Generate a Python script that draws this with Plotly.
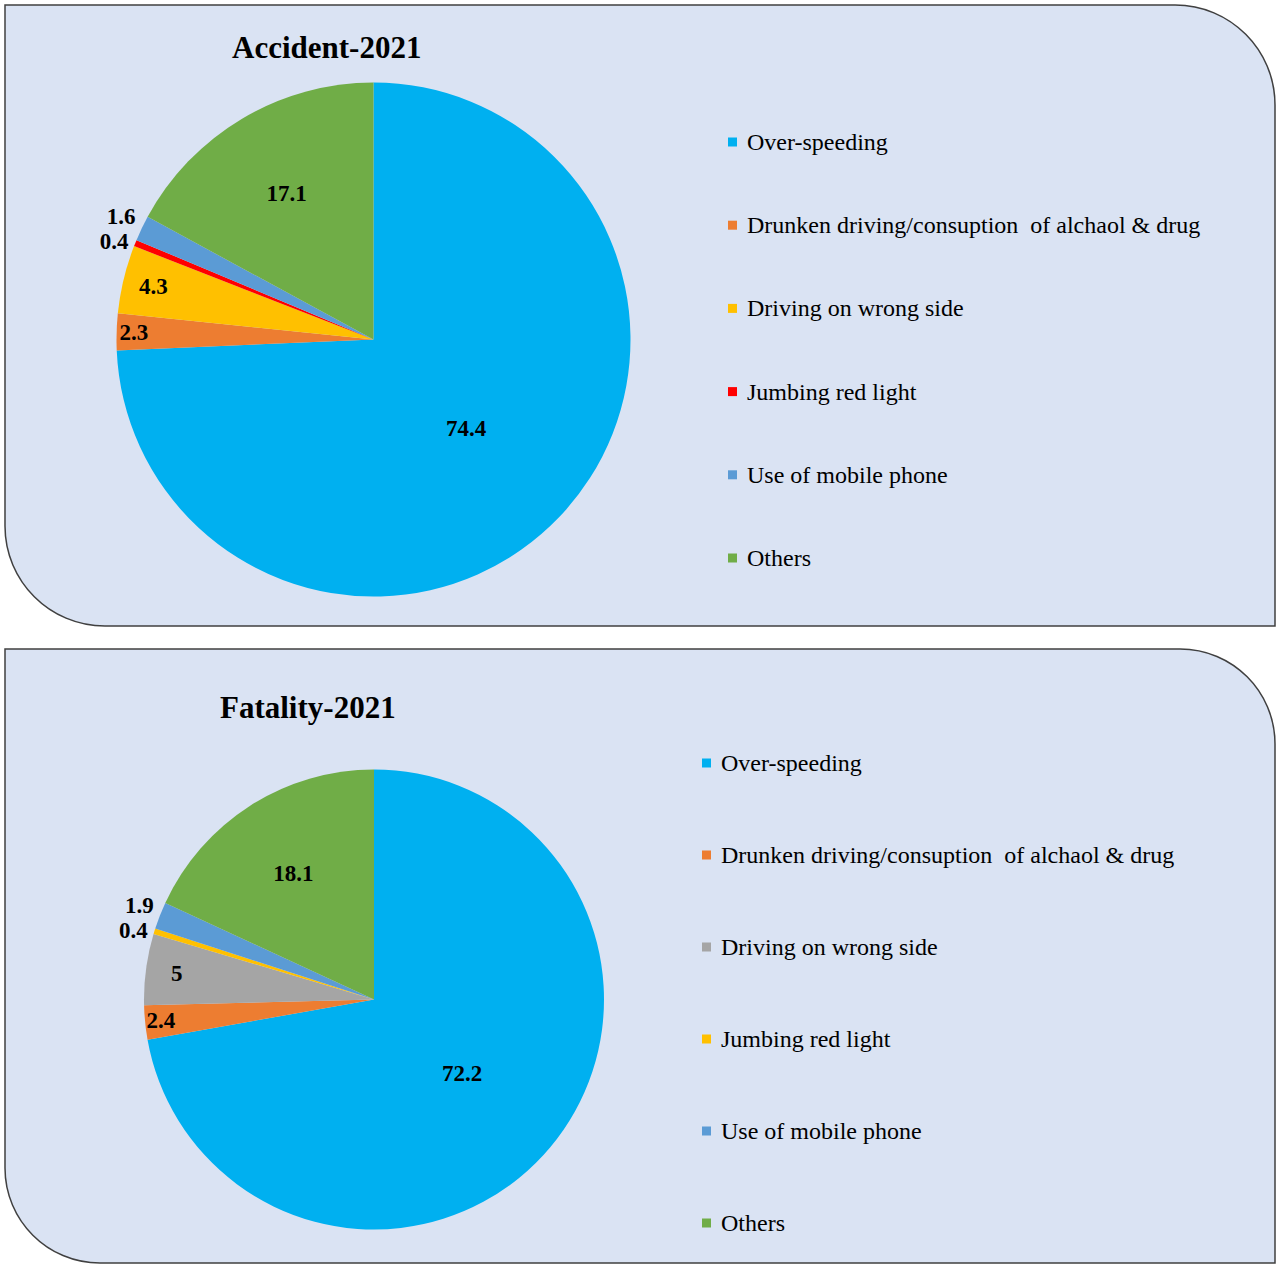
import plotly.graph_objects as go

# ---------------- data ----------------
acc_labels = ["Over-speeding", "Drunken driving/consuption  of alchaol & drug",
              "Driving on wrong side", "Jumbing red light", "Use of mobile phone", "Others"]
acc_values = [74.4, 2.3, 4.3, 0.4, 1.6, 17.1]
acc_colors = ["#00B0F0", "#ED7D31", "#FFC000", "#FF0000", "#5B9BD5", "#70AD47"]

fat_labels = ["Over-speeding", "Drunken driving/consuption  of alchaol & drug",
              "Driving on wrong side", "Jumbing red light", "Use of mobile phone", "Others"]
fat_values = [72.2, 2.4, 5, 0.4, 1.9, 18.1]
fat_colors = ["#00B0F0", "#ED7D31", "#A5A5A5", "#FFC000", "#5B9BD5", "#70AD47"]

W, H = 1276, 1264
SERIF = "Liberation Serif, Times New Roman, serif"
PANEL_BG = "#DAE3F3"
BORDER = "#404040"


def px(x):
    return x / W


def py(y):
    return 1 - y / H


def panel_path(x0, y0, x1, y1, r_tr, r_bl):
    k = 0.5523
    pts = []
    pts.append(f"M {px(x0)},{py(y0)}")
    pts.append(f"L {px(x1 - r_tr)},{py(y0)}")
    pts.append(f"C {px(x1 - r_tr + k * r_tr)},{py(y0)} {px(x1)},{py(y0 + r_tr - k * r_tr)} {px(x1)},{py(y0 + r_tr)}")
    pts.append(f"L {px(x1)},{py(y1)}")
    pts.append(f"L {px(x0 + r_bl)},{py(y1)}")
    pts.append(f"C {px(x0 + r_bl - k * r_bl)},{py(y1)} {px(x0)},{py(y1 - r_bl + k * r_bl)} {px(x0)},{py(y1 - r_bl)}")
    pts.append("Z")
    return " ".join(pts)


def fmt(v):
    return f"{v:g}"


fig = go.Figure()

pie_specs = [
    (acc_labels, acc_values, acc_colors, (373.5, 339.5), 257),
    (fat_labels, fat_values, fat_colors, (374, 999.5), 230),
]

for labels, values, colors, (cx, cy), r in pie_specs:
    positions = ["inside" if v >= 2 else "outside" for v in values]
    fig.add_trace(go.Pie(
        labels=labels,
        values=values,
        text=[fmt(v) for v in values],
        textinfo="text",
        textposition=positions,
        insidetextorientation="horizontal",
        sort=False,
        direction="clockwise",
        rotation=0,
        marker=dict(colors=colors, line=dict(width=0)),
        textfont=dict(family=SERIF, size=23, color="black", weight="bold"),
        showlegend=False,
        domain=dict(x=[px(cx - r), px(cx + r)], y=[py(cy + r), py(cy - r)]),
        hoverinfo="label+value",
    ))

shapes = [
    dict(type="path", xref="paper", yref="paper", layer="below",
         path=panel_path(5, 5, 1275, 626, 100, 100),
         fillcolor=PANEL_BG, line=dict(color=BORDER, width=1.5)),
    dict(type="path", xref="paper", yref="paper", layer="below",
         path=panel_path(5, 649, 1275, 1263, 95, 95),
         fillcolor=PANEL_BG, line=dict(color=BORDER, width=1.5)),
]

annotations = [
    dict(text="<b>Accident-2021</b>", x=px(327), y=py(48), xref="paper", yref="paper",
         showarrow=False, xanchor="center", yanchor="middle",
         font=dict(family=SERIF, size=31, color="black")),
    dict(text="<b>Fatality-2021</b>", x=px(308), y=py(707), xref="paper", yref="paper",
         showarrow=False, xanchor="center", yanchor="middle",
         font=dict(family=SERIF, size=31, color="black")),
]

# manual legends (layout positions)
legend_specs = [
    (acc_labels, acc_colors, 728, 142, 83.2),
    (fat_labels, fat_colors, 702, 763, 92),
]
for labels, colors, lx, ly0, step in legend_specs:
    for i, (lab, col) in enumerate(zip(labels, colors)):
        yc = ly0 + i * step
        shapes.append(dict(type="rect", xref="paper", yref="paper", layer="above",
                           x0=px(lx), x1=px(lx + 9), y0=py(yc + 4.5), y1=py(yc - 4.5),
                           fillcolor=col, line=dict(width=0)))
        annotations.append(dict(text=lab, x=px(lx + 17), y=py(yc), xref="paper", yref="paper",
                                showarrow=False, xanchor="left", yanchor="middle",
                                font=dict(family=SERIF, size=24, color="black")))

fig.update_layout(
    width=W, height=H,
    margin=dict(l=0, r=0, t=0, b=0),
    paper_bgcolor="white",
    plot_bgcolor="white",
    shapes=shapes,
    annotations=annotations,
    uniformtext=dict(minsize=23, mode="show"),
)

post = (
    "document.body.style.margin='0px';"
    "var s=document.createElement('style');"
    "s.innerHTML='path.textline{display:none;}';"
    "document.head.appendChild(s);"
)
fig.write_html("out.html", post_script=post, config={"displayModeBar": False})
